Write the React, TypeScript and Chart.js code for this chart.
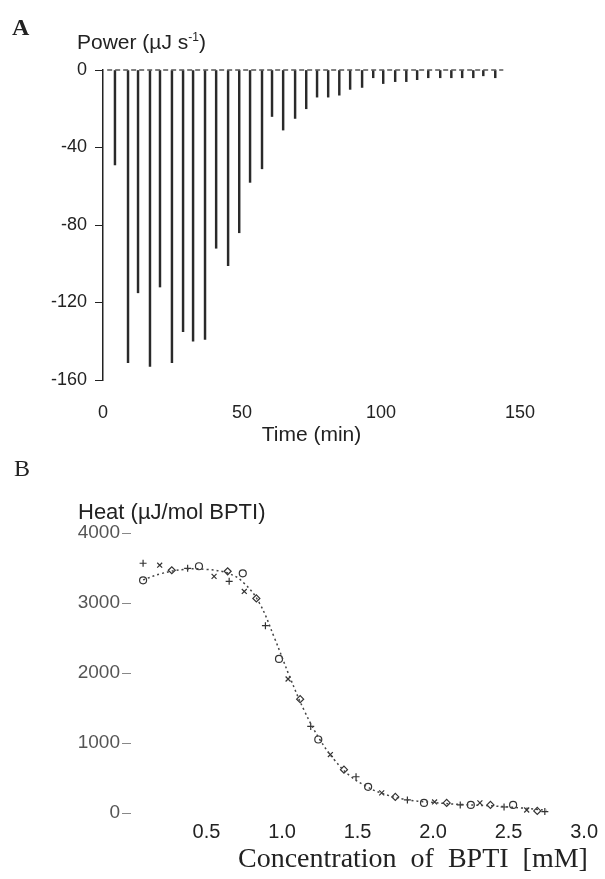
import React, { useEffect, useRef } from "react";
import { Chart, registerables } from "chart.js";
Chart.register(...registerables);

// Panel A: ITC raw trace (injection spikes)
const injectionTimes = [4.3, 9.0, 12.6, 16.9, 20.5, 24.8, 28.8, 32.4, 36.7, 40.7, 45.0, 49.0, 52.9, 57.2, 60.8, 64.8, 69.1, 73.1, 77.0, 81.0, 85.0, 88.9, 93.2, 97.2, 100.8, 105.1, 109.1, 113.0, 117.0, 121.3, 125.3, 129.2, 133.2, 136.8, 141.1];
const peakPower = [-49, -151, -115, -153, -112, -151, -135, -140, -139, -92, -101, -84, -58, -51, -24, -31, -25, -20, -14, -14, -13, -10, -9, -4, -7, -6, -6, -5, -4, -4, -4, -4, -4, -3, -4];
const baselineTime = [1.5, 144];
const baselinePower = [0, 0];

// Panel B: binding isotherm
const concentration = [0.08, 0.08, 0.19, 0.27, 0.375, 0.45, 0.55, 0.64, 0.65, 0.74, 0.75, 0.83, 0.89, 0.98, 1.04, 1.12, 1.19, 1.24, 1.32, 1.41, 1.49, 1.57, 1.66, 1.75, 1.83, 1.94, 2.01, 2.09, 2.18, 2.25, 2.31, 2.38, 2.47, 2.53, 2.62, 2.69, 2.74];
const heat = [3568, 3324, 3540, 3468, 3496, 3525, 3381, 3453, 3309, 3424, 3165, 3065, 2676, 2201, 1914, 1626, 1237, 1050, 835, 619, 518, 374, 288, 230, 187, 144, 158, 144, 115, 115, 144, 115, 86, 115, 43, 30, 20];
const fitConc = [0.08, 0.2, 0.35, 0.5, 0.65, 0.75, 0.85, 0.95, 1.05, 1.15, 1.25, 1.35, 1.45, 1.55, 1.65, 1.8, 2.0, 2.2, 2.4, 2.6, 2.75];
const fitHeat = [3330, 3420, 3480, 3480, 3420, 3280, 3000, 2500, 1950, 1450, 1050, 750, 530, 390, 290, 200, 150, 120, 100, 70, 40];
const markerCycle = ["cross", "circle", "crossRot", "rectRot"];

const sans = "'Liberation Sans', Arial, sans-serif";
const serif = "'Liberation Serif', 'Times New Roman', serif";

function PanelA() {
  const ref = useRef<HTMLCanvasElement>(null);
  useEffect(() => {
    const chart = new Chart(ref.current!, {
      type: "bar",
      data: {
        datasets: [
          {
            type: "bar",
            data: injectionTimes.map((t, i) => ({ x: t, y: peakPower[i] })),
            backgroundColor: "#2a2a2a",
            barThickness: 1.8,
            clip: false,
            order: 2,
          } as any,
          {
            type: "line",
            data: baselineTime.map((t, i) => ({ x: t, y: baselinePower[i] })),
            borderColor: "#555",
            borderWidth: 1.5,
            borderDash: [5, 3],
            pointRadius: 0,
            clip: false,
            order: 1,
          } as any,
        ],
      },
      options: {
        animation: false,
        responsive: false,
        layout: { padding: { top: 70, right: 85, left: 0, bottom: 0 } },
        plugins: { legend: { display: false }, tooltip: { enabled: false } },
        scales: {
          x: {
            type: "linear",
            min: 0,
            max: 150,
            offset: false,
            grid: { display: false, drawTicks: false },
            border: { display: false },
            ticks: { stepSize: 50, padding: 22, color: "#222", maxRotation: 0, font: { family: sans, size: 18 } },
            title: { display: true, text: "Time (min)", color: "#222", font: { family: sans, size: 21 }, padding: { top: 0, bottom: 12 } },
            afterFit: (s: any) => { s.height = 80; },
          },
          y: {
            min: -160,
            max: 0,
            grid: { drawOnChartArea: false, drawTicks: true, tickLength: 8, color: "#222" },
            border: { display: true, color: "#222", width: 1.5 },
            ticks: { stepSize: 40, padding: 8, color: "#222", font: { family: sans, size: 18 } },
            afterFit: (s: any) => { s.width = 103; },
          },
        },
      } as any,
    });
    return () => chart.destroy();
  }, []);
  return <canvas ref={ref} width={605} height={460} style={{ position: "absolute", left: 0, top: 0 }} />;
}

function PanelB() {
  const ref = useRef<HTMLCanvasElement>(null);
  useEffect(() => {
    const chart = new Chart(ref.current!, {
      type: "scatter",
      data: {
        datasets: [
          {
            data: fitConc.map((c, i) => ({ x: c, y: fitHeat[i] })),
            showLine: true,
            borderColor: "#444",
            borderWidth: 1.5,
            borderDash: [2, 3],
            pointRadius: 0,
            tension: 0.4,
            clip: false,
          } as any,
          {
            data: concentration.map((c, i) => ({ x: c, y: heat[i] })),
            showLine: false,
            pointStyle: (ctx: any) => markerCycle[ctx.dataIndex % markerCycle.length],
            pointRadius: 3.5,
            borderColor: "#333",
            borderWidth: 1.2,
            backgroundColor: "rgba(0,0,0,0)",
            clip: false,
          } as any,
        ],
      },
      options: {
        animation: false,
        responsive: false,
        layout: { padding: { top: 73, right: 17, left: 0, bottom: 0 } },
        plugins: { legend: { display: false }, tooltip: { enabled: false } },
        scales: {
          x: {
            type: "linear",
            min: 0,
            max: 3,
            grid: { display: false, drawTicks: false },
            border: { display: false },
            ticks: {
              stepSize: 0.5,
              padding: 7,
              maxRotation: 0,
              color: "#222",
              font: { family: sans, size: 20 },
              callback: (v: any) => (v === 0 ? "" : Number(v).toFixed(1)),
            },
            afterFit: (s: any) => { s.height = 66; },
          },
          y: {
            min: 0,
            max: 4000,
            grid: { drawOnChartArea: false, drawTicks: true, tickLength: 9, color: "#888" },
            border: { display: false },
            ticks: {
              stepSize: 1000,
              padding: 2,
              color: "#555",
              font: { family: sans, size: 19 },
              callback: (v: any) => String(v),
            },
            afterFit: (s: any) => { s.width = 131; },
          },
        },
      } as any,
    });
    return () => chart.destroy();
  }, []);
  return <canvas ref={ref} width={605} height={419} style={{ position: "absolute", left: 0, top: 460 }} />;
}

const label = (extra: React.CSSProperties): React.CSSProperties => ({
  position: "absolute",
  whiteSpace: "nowrap",
  color: "#222",
  ...extra,
});

export default function App() {
  return (
    <div style={{ position: "fixed", left: 0, top: 0, width: 605, height: 879, background: "#fff", overflow: "hidden" }}>
      <PanelA />
      <PanelB />
      <div style={label({ left: 12, top: 15, fontFamily: serif, fontWeight: "bold", fontSize: 24, lineHeight: "24px" })}>A</div>
      <div style={label({ left: 77, top: 31, fontFamily: sans, fontSize: 21, lineHeight: "21px" })}>
        Power (µJ s<sup style={{ fontSize: 12, lineHeight: 0 }}>-1</sup>)
      </div>
      <div style={label({ left: 14, top: 456, fontFamily: serif, fontSize: 24, lineHeight: "24px" })}>B</div>
      <div style={label({ left: 78, top: 501, fontFamily: sans, fontSize: 22, lineHeight: "22px" })}>Heat (µJ/mol BPTI)</div>
      <div style={label({ left: 238, top: 844, fontFamily: serif, fontSize: 28, lineHeight: "28px", wordSpacing: 7 })}>
        Concentration of BPTI [mM]
      </div>
    </div>
  );
}
